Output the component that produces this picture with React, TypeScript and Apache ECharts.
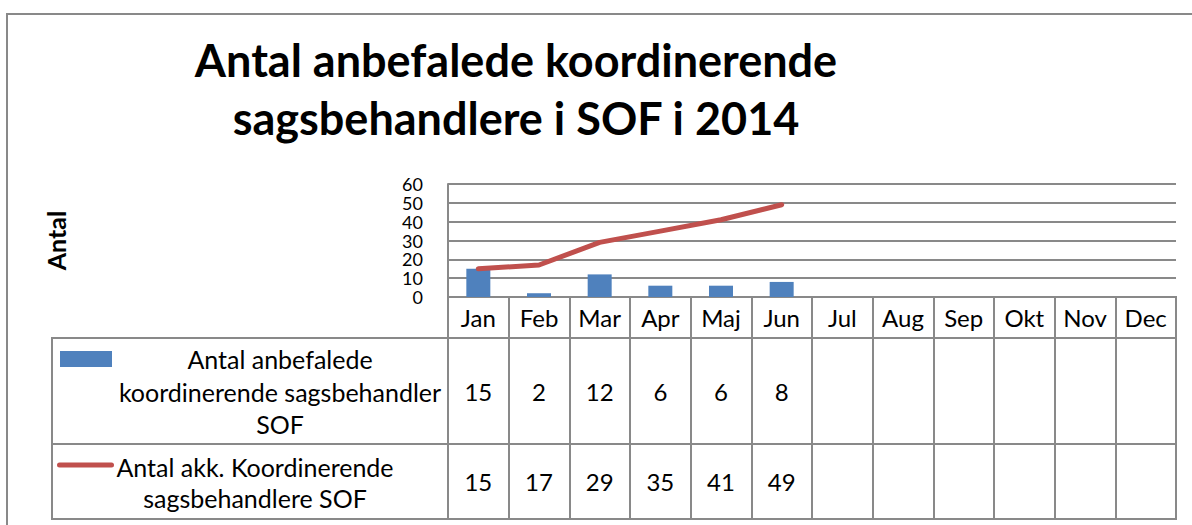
import React, { useEffect, useRef } from "react";
import * as echarts from "echarts";

const TITLE_LINES = ["Antal anbefalede koordinerende", "sagsbehandlere i SOF i 2014"];
const Y_NAME = "Antal";
const MONTHS = ["Jan", "Feb", "Mar", "Apr", "Maj", "Jun", "Jul", "Aug", "Sep", "Okt", "Nov", "Dec"];
const MONTHLY = [15, 2, 12, 6, 6, 8];
const CUMULATIVE = [15, 17, 29, 35, 41, 49];
const SERIES_BAR = "Antal anbefalede koordinerende sagsbehandler SOF";
const SERIES_LINE = "Antal akk. Koordinerende sagsbehandlere SOF";
const LEGEND_BAR_LINES = ["Antal anbefalede", "koordinerende sagsbehandler", "SOF"];
const LEGEND_LINE_LINES = ["Antal akk. Koordinerende", "sagsbehandlere SOF"];
const Y_MIN = 0;
const Y_MAX = 60;
const Y_STEP = 10;

const FONT = "Lato";
const GRAY = "#898989";
const BLUE = "#4F81BD";
const RED = "#C0504D";

export default function App() {
  const ref = useRef<HTMLDivElement>(null);

  useEffect(() => {
    if (!ref.current) return;
    const chart = echarts.init(ref.current, undefined, { renderer: "svg" });

    const PL = 448, PW = 728;
    const tableAxis = (gridIndex: number) => ({
      type: "category",
      gridIndex,
      data: MONTHS,
      boundaryGap: true,
      axisLine: { show: false },
      axisTick: { show: false },
      axisLabel: { show: false },
      splitLine: { show: true, interval: 0, lineStyle: { color: GRAY, width: 2 } },
    });
    const hiddenY = (gridIndex: number) => ({
      type: "value",
      gridIndex,
      min: 0,
      max: 1,
      show: false,
      splitLine: { show: false },
    });
    const cellText = (values: number[], gridIndex: number) => ({
      type: "custom",
      xAxisIndex: gridIndex,
      yAxisIndex: gridIndex,
      data: values.map((v, i) => [i, v]),
      encode: { x: 0 },
      clip: false,
      renderItem: (params: any, api: any) => {
        const x = api.coord([api.value(0), 0])[0];
        const cs = params.coordSys;
        return {
          type: "text",
          x,
          y: cs.y + cs.height / 2,
          style: {
            text: String(api.value(1)),
            fontFamily: FONT,
            fontSize: 24,
            fill: "#000",
            align: "center",
            verticalAlign: "middle",
          },
        };
      },
    });

    const option: any = {
      animation: false,
      backgroundColor: "#fff",
      title: {
        text: TITLE_LINES.join("\n"),
        left: 516,
        top: 31,
        padding: 0,
        textAlign: "center",
        textStyle: {
          fontFamily: FONT,
          fontWeight: "bold",
          fontSize: 45,
          lineHeight: 58,
          color: "#000",
        },
      },
      grid: [
        { left: PL, top: 184, width: PW, height: 113, show: false },
        { left: PL, top: 297, width: PW, height: 41, show: true, borderColor: GRAY, borderWidth: 2, backgroundColor: "transparent" },
        { left: PL, top: 338, width: PW, height: 106, show: true, borderColor: GRAY, borderWidth: 2, backgroundColor: "transparent" },
        { left: PL, top: 444, width: PW, height: 75, show: true, borderColor: GRAY, borderWidth: 2, backgroundColor: "transparent" },
      ],
      xAxis: [
        {
          type: "category",
          gridIndex: 0,
          data: MONTHS,
          boundaryGap: true,
          axisLine: { show: true, lineStyle: { color: GRAY, width: 2 } },
          axisTick: { show: false },
          axisLabel: { interval: 0, margin: 8, fontFamily: FONT, fontSize: 24, color: "#000" },
          splitLine: { show: false },
        },
        tableAxis(1),
        tableAxis(2),
        tableAxis(3),
      ],
      yAxis: [
        {
          type: "value",
          gridIndex: 0,
          min: Y_MIN,
          max: Y_MAX,
          interval: Y_STEP,
          name: Y_NAME,
          nameLocation: "middle",
          nameRotate: 90,
          nameGap: 380,
          nameTextStyle: { fontFamily: FONT, fontWeight: "bold", fontSize: 25, color: "#000" },
          axisLine: { show: true, lineStyle: { color: GRAY, width: 2 } },
          axisTick: { show: false },
          axisLabel: {
            margin: 25,
            fontFamily: FONT,
            fontSize: 18,
            lineHeight: 17,
            color: "#000",
            showMinLabel: true,
            showMaxLabel: true,
            hideOverlap: false,
          },
          splitLine: { show: true, lineStyle: { color: GRAY, width: 2 } },
        },
        hiddenY(1),
        hiddenY(2),
        hiddenY(3),
      ],
      series: [
        {
          name: SERIES_BAR,
          type: "bar",
          xAxisIndex: 0,
          yAxisIndex: 0,
          data: MONTHLY,
          barWidth: 24,
          itemStyle: { color: BLUE },
          z: 2,
        },
        {
          name: SERIES_LINE,
          type: "line",
          xAxisIndex: 0,
          yAxisIndex: 0,
          data: CUMULATIVE,
          symbol: "none",
          lineStyle: { color: RED, width: 5, cap: "round", join: "round" },
          itemStyle: { color: RED },
          z: 3,
        },
        cellText(MONTHLY, 2),
        cellText(CUMULATIVE, 3),
      ],
      graphic: [
        { type: "rect", shape: { x: 7, y: 14, width: 1300, height: 600 }, style: { fill: "none", stroke: GRAY, lineWidth: 2 }, z: 0 },
        { type: "rect", shape: { x: 52, y: 338, width: 396, height: 106 }, style: { fill: "none", stroke: GRAY, lineWidth: 2 } },
        { type: "rect", shape: { x: 52, y: 444, width: 396, height: 75 }, style: { fill: "none", stroke: GRAY, lineWidth: 2 } },
        { type: "rect", shape: { x: 60, y: 351, width: 52, height: 16 }, style: { fill: BLUE } },
        { type: "line", shape: { x1: 59.5, y1: 465, x2: 111.5, y2: 465 }, style: { stroke: RED, lineWidth: 5, lineCap: "round" } },
        {
          type: "text",
          x: 280,
          y: 343,
          style: {
            text: LEGEND_BAR_LINES.join("\n"),
            fontFamily: FONT,
            fontSize: 25,
            lineHeight: 32.5,
            fill: "#000",
            align: "center",
            verticalAlign: "top",
          },
        },
        {
          type: "text",
          x: 255,
          y: 451.5,
          style: {
            text: LEGEND_LINE_LINES.join("\n"),
            fontFamily: FONT,
            fontSize: 25,
            lineHeight: 31,
            fill: "#000",
            align: "center",
            verticalAlign: "top",
          },
        },
      ],
    };

    chart.setOption(option);
    return () => chart.dispose();
  }, []);

  return (
    <div
      ref={ref}
      style={{ position: "fixed", left: 0, top: 0, width: 1192, height: 525, background: "#fff" }}
    />
  );
}
